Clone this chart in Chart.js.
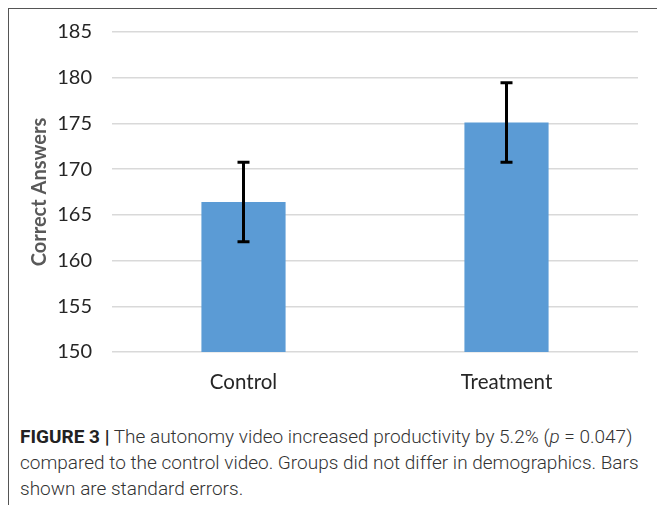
<!DOCTYPE html>
<html>
<head>
<meta charset="utf-8">
<script src="https://cdn.jsdelivr.net/npm/chart.js@4/dist/chart.umd.min.js"></script>
<style>
  html, body { margin: 0; padding: 0; background: #fff; }
  body { width: 657px; height: 505px; position: relative; overflow: hidden; }
  .marco { position: absolute; left: 8px; top: 8px; width: 660px; height: 510px;
           border-left: 1.5px solid #555; border-top: 1.5px solid #555; }
  #wrap { position: absolute; left: 9px; top: 9px; width: 648px; height: 390px; }
  .legenda { position: absolute; left: 20px; top: 424px; width: 636px;
             font-family: "Roboto", "Liberation Sans", sans-serif; font-weight: 300;
             font-size: 19px; line-height: 26px; color: #333; white-space: nowrap; }
  .legenda b { font-weight: bold; color: #222; }
</style>
</head>
<body>
<div class="marco"></div>
<div id="wrap"><canvas id="grafico"></canvas></div>
<div class="legenda"><b>FIGURE 3 |</b> The autonomy video increased productivity by 5.2% (<i>p</i> = 0.047)<br>compared to the control video. Groups did not differ in demographics. Bars<br>shown are standard errors.</div>
<script>
// dados
const grupos = ["Control", "Treatment"];
const medias = [166.4, 175.1];
const errosPadrao = [4.35, 4.35];
const ticksY = [150, 155, 160, 165, 170, 175, 180, 185];

// =============================
// Plugin: barras de erro
// =============================
const barrasErro = {
    id: "barrasErro",
    afterDatasetsDraw(chart) {
        const ctx = chart.ctx;
        const y = chart.scales.y;
        chart.getDatasetMeta(0).data.forEach((bar, i) => {
            const topo = y.getPixelForValue(medias[i] + errosPadrao[i]);
            const base = y.getPixelForValue(medias[i] - errosPadrao[i]);
            ctx.save();
            ctx.strokeStyle = "#000";
            ctx.lineWidth = 3;
            ctx.beginPath();
            ctx.moveTo(bar.x, topo);
            ctx.lineTo(bar.x, base);
            ctx.moveTo(bar.x - 6, topo);
            ctx.lineTo(bar.x + 6, topo);
            ctx.moveTo(bar.x - 6, base);
            ctx.lineTo(bar.x + 6, base);
            ctx.stroke();
            ctx.restore();
        });
    }
};

const fonte = "Lato, 'Open Sans', sans-serif";

new Chart(document.getElementById("grafico"), {
    type: "bar",
    data: {
        labels: grupos,
        datasets: [{
            data: medias,
            backgroundColor: "#5b9bd5",
            barPercentage: 0.32,
            categoryPercentage: 1
        }]
    },
    options: {
        responsive: true,
        maintainAspectRatio: false,
        animation: false,
        layout: { padding: { top: 23, right: 19, left: 0, bottom: 0 } },
        plugins: { legend: { display: false }, tooltip: { enabled: false } },
        scales: {
            x: {
                grid: { display: false, drawTicks: false },
                border: { display: false },
                ticks: { color: "#262626", padding: 18, font: { family: fonte, size: 20.5 } },
                afterFit: s => { s.height = 47; }
            },
            y: {
                min: 150,
                max: 185,
                afterBuildTicks: s => { s.ticks = ticksY.map(v => ({ value: v })); },
                grid: { color: "#d9d9d9", lineWidth: 1.5, drawTicks: false },
                border: { display: false },
                ticks: { color: "#262626", padding: 20, font: { family: fonte, size: 20 } },
                title: {
                    display: true,
                    text: "Correct Answers",
                    color: "#595959",
                    padding: { top: 19, bottom: 0 },
                    font: { family: fonte, size: 20, weight: "bold" }
                },
                afterFit: s => { s.width = 103; s.paddingTop = 0; s.paddingBottom = 0; }
            }
        }
    },
    plugins: [barrasErro]
});
</script>
</body>
</html>
